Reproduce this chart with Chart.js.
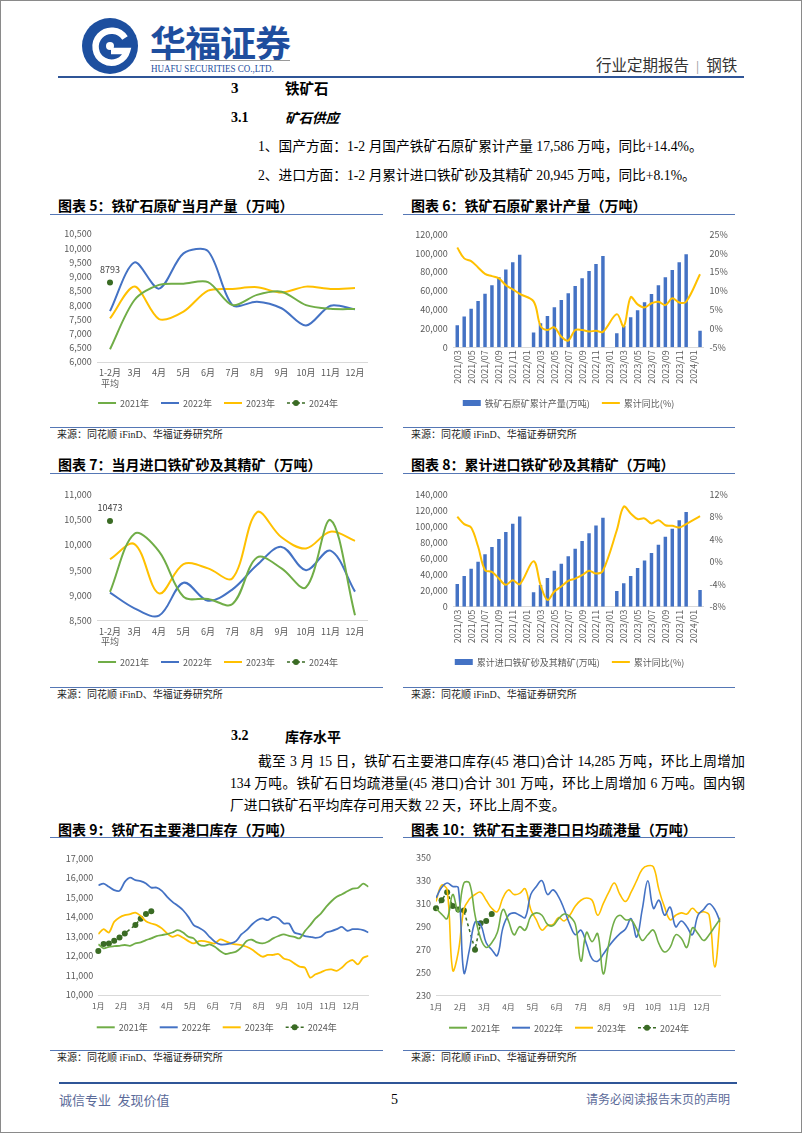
<!DOCTYPE html>
<html>
<head>
<meta charset="utf-8">
<script src="https://cdn.jsdelivr.net/npm/chart.js@4.4.0/dist/chart.umd.min.js"></script>
<style>
  body { margin: 0; width: 802px; height: 1133px; position: relative; background: #fff; overflow: hidden;
         font-family: "Liberation Serif", "Noto Sans CJK SC", serif; color: #000; }
  .frame { position: absolute; left: 0; top: 0; width: 800px; height: 1131px; border: 1px solid #8a8a8a; }
  .t { position: absolute; white-space: nowrap; line-height: 1; transform: translateY(-50%); }
  .rule { position: absolute; height: 1px; background: #5577b5; }
  .title { font-family: "Noto Sans CJK SC", sans-serif; font-weight: 700; font-size: 14px; }
  .src { font-size: 10px; color: #222; }
  .body { font-size: 13.7px; }
  canvas { position: absolute; }
</style>
</head>
<body>
<div class="frame"></div>

<!-- header -->
<svg style="position:absolute;left:79px;top:17px" width="62" height="58" viewBox="0 0 62 58">
  <circle cx="31" cy="29" r="28" fill="#1d4f9f"/>
  <path d="M46 21 A16 16 0 1 0 48 34 L32 34" stroke="#fff" stroke-width="6.5" fill="none"/>
  <circle cx="31" cy="29" r="4" fill="#fff"/>
</svg>
<div class="t" style="left:150px;top:41px;font-family:'Noto Sans CJK SC';font-weight:700;font-size:36px;color:#1e4e9e;letter-spacing:-1px">华福证券</div>
<div style="position:absolute;left:150px;top:60px;width:140px;height:1px;background:#9a9a9a"></div>
<div class="t" style="left:151px;top:69px;font-size:10.5px;color:#1e4e9e;transform:translateY(-50%) scaleX(0.86);transform-origin:left center">HUAFU SECURITIES CO.,LTD.</div>
<div class="t" style="left:596px;top:66px;font-size:15.5px;color:#333">行业定期报告<span style="color:#999;margin:0 7px">|</span>钢铁</div>
<div style="position:absolute;left:58px;top:76px;width:686px;height:2px;background:#2f5597"></div>

<div class="t" style="left:231px;top:88px;font-size:15px;font-weight:700">3</div>
<div class="t" style="left:285px;top:88px;font-size:14.5px;font-weight:700;font-family:'Noto Sans CJK SC'">铁矿石</div>
<div class="t" style="left:231px;top:118px;font-size:14px;font-weight:700">3.1</div>
<div class="t" style="left:285px;top:118px;font-size:13.5px;font-weight:700;font-family:'Noto Sans CJK SC';font-style:italic">矿石供应</div>
<div class="t body" style="left:258px;top:147px">1、国产方面：1-2 月国产铁矿石原矿累计产量 17,586 万吨，同比+14.4%。</div>
<div class="t body" style="left:258px;top:176px">2、进口方面：1-2 月累计进口铁矿砂及其精矿 20,945 万吨，同比+8.1%。</div>

<!-- chart frames -->
<div class="t title" style="left:58px;top:205px">图表 5：铁矿石原矿当月产量（万吨）</div>
<div class="rule" style="left:50px;top:214px;width:333px"></div>
<div class="t title" style="left:411px;top:205px">图表 6：铁矿石原矿累计产量（万吨）</div>
<div class="rule" style="left:403px;top:214px;width:332px"></div>
<div class="rule" style="left:50px;top:427px;width:333px"></div>
<div class="t src" style="left:57px;top:435px">来源：同花顺 iFinD、华福证券研究所</div>
<div class="rule" style="left:403px;top:427px;width:332px"></div>
<div class="t src" style="left:411px;top:435px">来源：同花顺 iFinD、华福证券研究所</div>

<div class="t title" style="left:58px;top:464px">图表 7：当月进口铁矿砂及其精矿（万吨）</div>
<div class="rule" style="left:50px;top:473px;width:333px"></div>
<div class="t title" style="left:411px;top:464px">图表 8：累计进口铁矿砂及其精矿（万吨）</div>
<div class="rule" style="left:403px;top:473px;width:332px"></div>
<div class="rule" style="left:50px;top:687px;width:333px"></div>
<div class="t src" style="left:57px;top:695px">来源：同花顺 iFinD、华福证券研究所</div>
<div class="rule" style="left:403px;top:687px;width:332px"></div>
<div class="t src" style="left:411px;top:695px">来源：同花顺 iFinD、华福证券研究所</div>

<div class="t" style="left:231px;top:736px;font-size:14px;font-weight:700">3.2</div>
<div class="t" style="left:285px;top:736px;font-size:14px;font-weight:700;font-family:'Noto Sans CJK SC'">库存水平</div>
<div class="t body" style="left:258px;top:762px;width:487px;text-align:justify;text-align-last:justify">截至 3 月 15 日，铁矿石主要港口库存(45 港口)合计 14,285 万吨，环比上周增加</div>
<div class="t body" style="left:230px;top:784px;width:515px;text-align:justify;text-align-last:justify">134 万吨。铁矿石日均疏港量(45 港口)合计 301 万吨，环比上周增加 6 万吨。国内钢</div>
<div class="t body" style="left:230px;top:806px">厂进口铁矿石平均库存可用天数 22 天，环比上周不变。</div>

<div class="t title" style="left:58px;top:829px">图表 9：铁矿石主要港口库存（万吨）</div>
<div class="rule" style="left:50px;top:837px;width:333px"></div>
<div class="t title" style="left:411px;top:829px">图表 10：铁矿石主要港口日均疏港量（万吨）</div>
<div class="rule" style="left:403px;top:837px;width:332px"></div>
<div class="rule" style="left:50px;top:1050px;width:333px"></div>
<div class="t src" style="left:57px;top:1058px">来源：同花顺 iFinD、华福证券研究所</div>
<div class="rule" style="left:403px;top:1050px;width:332px"></div>
<div class="t src" style="left:411px;top:1058px">来源：同花顺 iFinD、华福证券研究所</div>

<!-- footer -->
<div style="position:absolute;left:59px;top:1082px;width:678px;height:2px;background:#2f5597"></div>
<div class="t" style="left:59px;top:1100px;font-size:13px;color:#5b6a99">诚信专业&nbsp;&nbsp;发现价值</div>
<div class="t" style="left:391px;top:1100px;font-size:14px">5</div>
<div class="t" style="left:586px;top:1100px;font-size:12px;color:#5b6a99">请务必阅读报告末页的声明</div>

<canvas id="c5" width="340" height="198" style="left:50px;top:222px"></canvas>
<canvas id="c6" width="377" height="198" style="left:403px;top:222px"></canvas>
<canvas id="c7" width="340" height="198" style="left:50px;top:482px"></canvas>
<canvas id="c8" width="377" height="198" style="left:403px;top:482px"></canvas>
<canvas id="c9" width="340" height="198" style="left:50px;top:845px"></canvas>
<canvas id="c10" width="377" height="198" style="left:403px;top:845px"></canvas>

<script>
// ---- data ----
const monthCats = [['1-2月', '平均'], '3月', '4月', '5月', '6月', '7月', '8月', '9月', '10月', '11月', '12月'];

// 图表5 当月产量
const prod2021 = [6450, 8180, 8710, 8750, 8810, 8000, 8360, 8470, 8000, 7870, 7860];
const prod2022 = [7790, 9500, 8580, 9820, 9900, 8000, 8120, 7890, 7280, 7980, 7850];
const prod2023 = [7530, 8650, 7510, 7770, 8510, 8570, 8630, 8440, 8650, 8570, 8600];
const prod2024 = [8793, null, null, null, null, null, null, null, null, null, null];

// 图表7 当月进口
const imp2021 = [9070, 10220, 9870, 8975, 8930, 8830, 9750, 9535, 9160, 10490, 8610];
const imp2022 = [9055, 8745, 8600, 9250, 8895, 9120, 9600, 9960, 9500, 9885, 9075];
const imp2023 = [9715, 10015, 9040, 9620, 9535, 9340, 10645, 10150, 9930, 10260, 10080];
const imp2024 = [10473, null, null, null, null, null, null, null, null, null, null];

// 图表6 / 图表8 月份
const ymCats = ['2021/03', '2021/04', '2021/05', '2021/06', '2021/07', '2021/08', '2021/09', '2021/10', '2021/11', '2021/12',
  '2022/01', '2022/02', '2022/03', '2022/04', '2022/05', '2022/06', '2022/07', '2022/08', '2022/09', '2022/10', '2022/11', '2022/12',
  '2023/01', '2023/02', '2023/03', '2023/04', '2023/05', '2023/06', '2023/07', '2023/08', '2023/09', '2023/10', '2023/11', '2023/12',
  '2024/01', '2024/02'];

const cumProd = [23500, 32600, 41000, 49200, 57000, 65800, 74300, 82500, 90300, 98400,
  null, 15600, 25500, 33300, 42500, 50300, 57300, 65100, 73300, 81000, 88500, 97000,
  null, 14900, 22700, 31900, 39300, 47800, 56600, 65800, 74300, 82100, 90300, 98800,
  null, 17586];
const cumProdYoY = [21.5, 18.6, 17.9, 16.2, 14.5, 13.9, 13.3, 11.5, 10.4, 9.2,
  null, 7.2, 0.7, -0.4, 0.3, -2.2, -3.2, -0.4, -0.4, -0.8, -0.6, -0.9,
  null, 3.8, 0.5, 8.3, 6.4, 5.6, 6.7, 7.1, 6.2, 8.0, 6.9, 7.1,
  null, 14.4];

const cumImp = [28300, 38200, 47400, 56100, 65200, 74400, 84300, 93100, 103400, 112400,
  null, 17900, 27000, 35700, 44900, 53600, 62700, 72300, 81800, 91400, 101000, 110700,
  null, 19500, 29100, 38200, 48200, 57700, 66900, 77300, 87200, 97200, 107600, 117900,
  null, 20945];
const cumImpYoY = [8.0, 6.7, 6.1, 2.7, -1.5, -1.8, -3.0, -4.1, -3.3, -4.0,
  null, 0.1, -4.1, -6.8, -5.3, -4.4, -3.4, -3.0, -2.4, -1.6, -2.1, -1.6,
  null, 5.6, 9.8, 8.6, 7.6, 7.7, 6.8, 7.4, 6.5, 6.4, 6.1, 6.7,
  null, 8.1];

// 图表9 / 图表10 周度（x = 第几周，0..51）
const monthNames = ['1月', '2月', '3月', '4月', '5月', '6月', '7月', '8月', '9月', '10月', '11月', '12月'];
const weeksPerYear = 52;

const inv2021 = [12600, 12390, 12470, 12500, 12520, 12560, 12520, 12640, 12690, 12810, 12900, 13020, 13070,
  13120, 13200, 13320, 13200, 12980, 12900, 12590, 12520, 12590, 12470, 12250, 12100, 12160,
  12220, 12440, 12760, 12830, 12690, 12640, 12730, 12900, 13020, 13100, 13030, 12980, 12900,
  13270, 13580, 13920, 14170, 14510, 14800, 15030, 15160, 15310, 15450, 15480, 15700, 15540];
const inv2022 = [15620, 15700, 15540, 15370, 15330, 15790, 16010, 15880, 15830, 15710, 15500, 15500, 15330,
  15030, 14770, 14570, 14340, 14000, 13580, 13440, 13270, 12980, 12730, 12590, 12590, 12640,
  12760, 13100, 13320, 13610, 13830, 13920, 13830, 14000, 13920, 13660, 13660, 13200, 13120,
  13020, 12980, 12930, 12980, 13200, 13270, 13370, 13490, 13290, 13370, 13370, 13320, 13200];
const inv2023 = [13120, 13370, 13200, 13750, 13970, 14090, 14140, 14220, 14050, 13780, 13660, 13580, 13410,
  13150, 12980, 13070, 12930, 12760, 12640, 12760, 12760, 12690, 12640, 12850, 12760, 12640,
  12590, 12560, 12470, 12330, 12130, 11960, 12050, 12050, 12100, 11870, 11790, 11620, 11450,
  11400, 10890, 11060, 11160, 11280, 11310, 11240, 11410, 11670, 11790, 11570, 11910, 12010];
const inv2024 = [12250, 12610, 12640, 12780, 12950, 13150, null, 13590, 13900, 14151, 14285];

const port2021 = [306, 301, 297, 318, 303, 328, 328, 300, 280, 272, 276, 285, 305, 295, 283, 290, 287, 299,
  302, 300, 292, 291, 297, 301, 299, 292, 260, 285, 277, 284, 249, 275, 295, 300, 296, 296,
  288, 278, 283, 287, 275, 268, 272, 283, 280, 272, 289, 284, 278, 283, 290, 297];
const port2022 = [315, 324, 328, 325, 324, 250, 270, 294, 292, 276, 270, 265, 289, 300, 302, 300, 298, 318,
  325, 330, 318, 322, 316, 305, 292, 283, 287, 275, 262, 260, 266, 273, 279, 284, 288, 297,
  281, 305, 330, 306, 313, 300, 307, 290, 295, 290, 283, 300, 305, 310, 305, 294];
const port2023 = [312, 326, 322, 252, 268, 305, 314, 318, 320, 313, 306, 303, 315, 322, 318, 319, 323, 305,
  296, 287, 291, 292, 298, 295, 300, 308, 313, 315, 313, 300, 310, 320, 328, 318, 312, 320,
  330, 340, 343, 342, 322, 307, 296, 300, 302, 301, 306, 302, 303, 300, 255, 298];
const port2024 = [306, 313, 320, 308, 305, 304, null, 270, 293, 295, 301];

const C21 = '#70ad47', C22 = '#4472c4', C23 = '#ffc000', C24 = '#3a6b24';

// ---- helpers ----
Chart.defaults.font.family = '"Noto Sans CJK SC", "Noto Sans", sans-serif';
Chart.defaults.font.size = 9;
Chart.defaults.color = '#595959';
Chart.defaults.animation = false;
Chart.defaults.plugins.legend.display = false;
Chart.defaults.plugins.tooltip.enabled = false;

const fmt = v => v.toLocaleString('en-US');
const noGrid = { display: false, drawTicks: false };

// legend drawn under the plot
const bottomLegend = {
  id: 'bottomLegend',
  afterDraw(chart, args, opts) {
    const ctx = chart.ctx;
    const sets = chart.data.datasets;
    ctx.save();
    ctx.font = '9px "Noto Sans CJK SC"';
    ctx.textBaseline = 'middle';
    const w = sets.map(d => 18 + 4 + ctx.measureText(d.label).width);
    const total = w.reduce((a, b) => a + b, 0) + 12 * (sets.length - 1);
    let x = opts.cx - total / 2;
    const y = opts.y;
    sets.forEach((d, i) => {
      ctx.setLineDash([]);
      if (d.type === 'bar') {
        ctx.fillStyle = d.backgroundColor;
        ctx.fillRect(x, y - 3, 18, 6);
      } else if (d.borderDash && d.borderDash.length) {
        ctx.strokeStyle = C24; ctx.lineWidth = 1.5;
        ctx.setLineDash([3, 2]);
        ctx.beginPath(); ctx.moveTo(x, y); ctx.lineTo(x + 18, y); ctx.stroke();
        ctx.setLineDash([]);
        ctx.fillStyle = C24;
        ctx.beginPath(); ctx.arc(x + 9, y, 3, 0, Math.PI * 2); ctx.fill();
      } else {
        ctx.strokeStyle = d.borderColor; ctx.lineWidth = 2;
        ctx.beginPath(); ctx.moveTo(x, y); ctx.lineTo(x + 18, y); ctx.stroke();
      }
      ctx.fillStyle = '#595959';
      ctx.fillText(d.label, x + 22, y + 0.5);
      x += w[i] + 12;
    });
    ctx.restore();
  }
};

// value label above the lone 2024 point
const pointLabel = {
  id: 'pointLabel',
  afterDatasetsDraw(chart, args, opts) {
    if (opts.index === undefined) return;
    const meta = chart.getDatasetMeta(opts.index);
    const pt = meta.data[0];
    const ctx = chart.ctx;
    ctx.save();
    ctx.font = '9px "Noto Sans CJK SC"';
    ctx.fillStyle = '#404040';
    ctx.textAlign = 'center';
    ctx.textBaseline = 'middle';
    ctx.fillText(String(chart.data.datasets[opts.index].data[0]), pt.x, pt.y - 13);
    ctx.restore();
  }
};

function yearLine(label, data, color, width, tension) {
  return { label, data, borderColor: color, backgroundColor: color, borderWidth: width,
           pointRadius: 0, tension, fill: false };
}
function dots2024(data, showLine) {
  return { label: '2024年', data, borderColor: C24, backgroundColor: C24, borderWidth: 1.5,
           borderDash: [3, 3], pointRadius: 3, pointBackgroundColor: C24, pointBorderWidth: 0,
           showLine, spanGaps: true, tension: 0, clip: 8 };
}

function monthChart(id, sets, yMin, yMax, step, g) {
  return new Chart(document.getElementById(id), {
    type: 'line',
    data: { labels: monthCats, datasets: sets },
    options: {
      responsive: false,
      layout: { padding: { top: g.pt, right: g.pr, bottom: g.pb, left: 0 } },
      scales: {
        x: { offset: true, grid: noGrid, border: { color: '#d9d9d9' },
             ticks: { autoSkip: false, maxRotation: 0, padding: 5 },
             afterFit: s => { s.height = g.xh; } },
        y: { min: yMin, max: yMax, grid: noGrid, border: { display: false },
             ticks: { stepSize: step, padding: 6, callback: fmt },
             afterFit: s => { s.width = g.yw; } }
      },
      plugins: { bottomLegend: { y: g.ly, cx: g.cx }, pointLabel: { index: 3 } }
    },
    plugins: [bottomLegend, pointLabel]
  });
}

function cumChart(id, barLabel, bars, yoy, lMax, rMin, rMax, rStep, g) {
  return new Chart(document.getElementById(id), {
    data: {
      labels: ymCats,
      datasets: [
        { type: 'bar', label: barLabel, data: bars, backgroundColor: C22, yAxisID: 'y',
          categoryPercentage: 1, barPercentage: 0.5, order: 1 },
        { type: 'line', label: '累计同比(%)', data: yoy, borderColor: C23, backgroundColor: C23,
          borderWidth: 2, pointRadius: 0, tension: 0.35, spanGaps: true, yAxisID: 'y1', order: 0 }
      ]
    },
    options: {
      responsive: false,
      layout: { padding: { top: g.pt, right: g.pr, bottom: g.pb, left: 0 } },
      scales: {
        x: { offset: true, grid: noGrid, border: { color: '#d9d9d9' },
             ticks: { autoSkip: false, minRotation: 90, maxRotation: 90, padding: 3,
                      callback: (v, i) => (i % 2 === 0 ? ymCats[i] : '') },
             afterFit: s => { s.height = g.xh; } },
        y: { position: 'left', min: 0, max: lMax, grid: noGrid, border: { display: false },
             ticks: { stepSize: 20000, padding: 6, callback: fmt },
             afterFit: s => { s.width = g.yw; } },
        y1: { position: 'right', min: rMin, max: rMax, grid: noGrid, border: { display: false },
              ticks: { stepSize: rStep, padding: 6, callback: v => v + '%' },
              afterFit: s => { s.width = 30; } }
      },
      plugins: { bottomLegend: { y: g.ly, cx: g.cx } }
    },
    plugins: [bottomLegend]
  });
}

function weekChart(id, sets, yMin, yMax, step, tickFmt, g) {
  const weekIdx = sets[0].data.map((v, i) => i);
  return new Chart(document.getElementById(id), {
    type: 'line',
    data: { labels: weekIdx, datasets: sets },
    options: {
      responsive: false,
      layout: { padding: { top: g.pt, right: g.pr, bottom: g.pb, left: 0 } },
      scales: {
        x: { type: 'linear', min: 0, max: weeksPerYear - 1, grid: noGrid, border: { color: '#d9d9d9' },
             afterBuildTicks: s => {
               s.ticks = monthNames.map((n, m) => ({ value: m * weeksPerYear / 12 }));
             },
             ticks: { autoSkip: false, maxRotation: 0, padding: 6, font: { size: 8 },
                      callback: (v, i) => monthNames[i] },
             afterFit: s => { s.height = g.xh; } },
        y: { min: yMin, max: yMax, grid: noGrid, border: { display: false },
             ticks: { stepSize: step, padding: 5, callback: tickFmt },
             afterFit: s => { s.width = g.yw; } }
      },
      plugins: { bottomLegend: { y: g.ly, cx: g.cx } }
    },
    plugins: [bottomLegend]
  });
}

// ---- charts ----
monthChart('c5', [
  yearLine('2021年', prod2021, C21, 2, 0.3),
  yearLine('2022年', prod2022, C22, 2, 0.3),
  yearLine('2023年', prod2023, C23, 2, 0.3),
  dots2024(prod2024, false)
], 6000, 10500, 500, { pt: 12, pr: 22.75, pb: 28, xh: 30, yw: 47.75, ly: 181, cx: 168 });

monthChart('c7', [
  yearLine('2021年', imp2021, C21, 2, 0.35),
  yearLine('2022年', imp2022, C22, 2, 0.35),
  yearLine('2023年', imp2023, C23, 2, 0.35),
  dots2024(imp2024, false)
], 8500, 11000, 500, { pt: 12.3, pr: 22.75, pb: 29.3, xh: 30, yw: 47.75, ly: 180, cx: 168 });

cumChart('c6', '铁矿石原矿累计产量(万吨)', cumProd, cumProdYoY, 120000, -5, 25, 5,
  { pt: 12.3, pr: 46.5, pb: 22.7, xh: 50, yw: 50.8, ly: 181, cx: 165.5 });

cumChart('c8', '累计进口铁矿砂及其精矿(万吨)', cumImp, cumImpYoY, 140000, -8, 12, 2,
  { pt: 12.3, pr: 46.5, pb: 23.3, xh: 50, yw: 50.8, ly: 180, cx: 166.5 });

weekChart('c9', [
  yearLine('2021年', inv2021, C21, 1.8, 0.3),
  yearLine('2022年', inv2022, C22, 1.8, 0.3),
  yearLine('2023年', inv2023, C23, 1.8, 0.3),
  dots2024(inv2024, true)
], 10000, 17000, 1000, fmt, { pt: 13.3, pr: 21.5, pb: 28, xh: 20, yw: 48.3, ly: 182.3, cx: 166.7 });

weekChart('c10', [
  yearLine('2021年', port2021, C21, 1.6, 0.4),
  yearLine('2022年', port2022, C22, 1.6, 0.4),
  yearLine('2023年', port2023, C23, 1.6, 0.4),
  dots2024(port2024, true)
], 230, 350, 20, v => v, { pt: 12.7, pr: 59.7, pb: 27.3, xh: 20, yw: 33, ly: 182.7, cx: 166 });
</script>
</body>
</html>
